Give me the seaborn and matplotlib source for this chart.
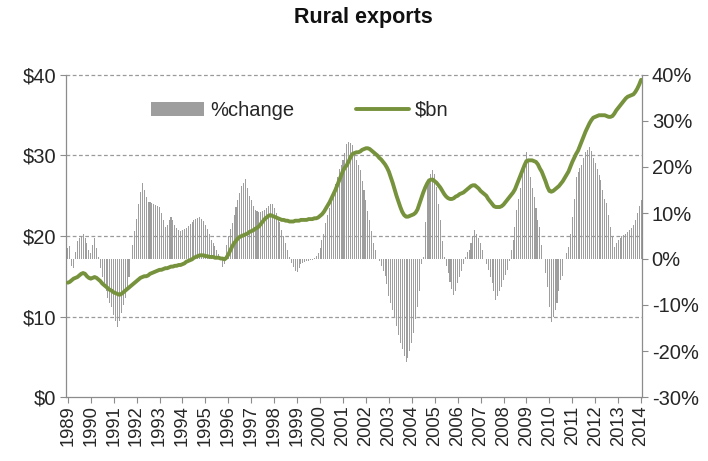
import numpy as np
import pandas as pd
import matplotlib
matplotlib.use("Agg")
import matplotlib.pyplot as plt
from matplotlib.patches import Patch
from matplotlib.lines import Line2D
import seaborn as sns

# Monthly series, January 1989 to January 2014
start_year = 1989

# Rural exports, rolling annual value ($bn), one row per year (Jan..Dec)
bn_values = [
    14.2, 14.3, 14.5, 14.7, 14.8, 14.9, 15.1, 15.3, 15.4, 15.3, 15.0, 14.8,  # 1989
    14.7, 14.8, 14.9, 14.8, 14.6, 14.4, 14.1, 13.9, 13.7, 13.5, 13.3, 13.2,  # 1990
    13.0, 12.9, 12.8, 12.7, 12.8, 13.0, 13.2, 13.4, 13.6, 13.8, 14.0, 14.2,  # 1991
    14.4, 14.6, 14.8, 14.9, 15.0, 15.0, 15.1, 15.3, 15.4, 15.5, 15.6, 15.7,  # 1992
    15.8, 15.8, 15.9, 16.0, 16.0, 16.1, 16.2, 16.2, 16.3, 16.3, 16.4, 16.4,  # 1993
    16.5, 16.6, 16.8, 16.9, 17.0, 17.1, 17.3, 17.4, 17.5, 17.6, 17.6, 17.6,  # 1994
    17.5, 17.5, 17.4, 17.4, 17.4, 17.3, 17.3, 17.3, 17.2, 17.2, 17.1, 17.3,  # 1995
    17.7, 18.2, 18.7, 19.1, 19.4, 19.7, 19.9, 20.0, 20.1, 20.2, 20.3, 20.5,  # 1996
    20.6, 20.7, 20.9, 21.0, 21.2, 21.5, 21.8, 22.1, 22.3, 22.5, 22.6, 22.5,  # 1997
    22.4, 22.3, 22.2, 22.1, 22.0, 22.0, 21.9, 21.9, 21.8, 21.8, 21.8, 21.9,  # 1998
    21.9, 21.9, 22.0, 22.0, 22.0, 22.0, 22.1, 22.1, 22.1, 22.2, 22.2, 22.3,  # 1999
    22.5, 22.7, 23.0, 23.4, 23.8, 24.2, 24.7, 25.2, 25.7, 26.3, 26.9, 27.5,  # 2000
    28.1, 28.5, 28.8, 29.3, 29.8, 30.2, 30.3, 30.4, 30.4, 30.5, 30.7, 30.8,  # 2001
    30.9, 30.9, 30.8, 30.6, 30.4, 30.2, 30.0, 29.7, 29.5, 29.2, 28.9, 28.5,  # 2002
    28.0, 27.3, 26.6, 25.8, 25.0, 24.3, 23.6, 23.0, 22.6, 22.4, 22.4, 22.5,  # 2003
    22.6, 22.7, 22.9, 23.3, 24.0, 24.7, 25.4, 26.0, 26.5, 26.9, 27.0, 27.0,  # 2004
    26.8, 26.6, 26.3, 26.0, 25.6, 25.2, 24.9, 24.7, 24.6, 24.6, 24.7, 24.9,  # 2005
    25.0, 25.2, 25.3, 25.4, 25.6, 25.8, 26.0, 26.2, 26.3, 26.3, 26.1, 25.9,  # 2006
    25.6, 25.4, 25.2, 25.0, 24.6, 24.3, 24.0, 23.7, 23.6, 23.6, 23.6, 23.7,  # 2007
    23.9, 24.2, 24.5, 24.8, 25.1, 25.4, 25.8, 26.4, 27.0, 27.6, 28.2, 28.8,  # 2008
    29.3, 29.4, 29.4, 29.4, 29.3, 29.2, 28.9, 28.4, 28.0, 27.4, 26.8, 26.1,  # 2009
    25.6, 25.5, 25.6, 25.8, 26.0, 26.2, 26.5, 26.8, 27.2, 27.6, 28.0, 28.6,  # 2010
    29.2, 29.7, 30.2, 30.6, 31.2, 31.8, 32.4, 33.0, 33.5, 34.0, 34.4, 34.7,  # 2011
    34.8, 34.9, 35.0, 35.0, 35.0, 35.0, 34.9, 34.8, 34.8, 34.9, 35.2, 35.6,  # 2012
    35.9, 36.2, 36.5, 36.8, 37.1, 37.3, 37.4, 37.5, 37.6, 37.9, 38.3, 38.8,  # 2013
    39.4,                                                                    # 2014
]

# Year-ended percentage change, one row per year (Jan..Dec)
pct_values = [
    2.5, 2.8, -1.5, -2.0, 1.5, 4.0, 4.5, 5.0, 5.4, 4.5, 3.5, 2.0,              # 1989
    1.3, 3.0, 4.6, 2.5, 0.5, -2.0, -4.0, -5.3, -7.0, -8.5, -9.6, -10.5,         # 1990
    -12.2, -13.5, -14.7, -13.5, -11.8, -10.0, -8.5, -6.7, -4.0, 0.0, 3.0, 6.0,  # 1991
    8.8, 12.0, 14.5, 16.5, 15.0, 13.5, 12.5, 12.3, 12.1, 12.0, 11.8, 11.6,      # 1992
    11.4, 10.0, 8.5, 7.0, 7.5, 8.5, 9.2, 8.5, 7.5, 6.8, 6.3, 6.0,               # 1993
    6.2, 6.5, 6.7, 7.2, 7.7, 8.1, 8.5, 8.8, 9.0, 9.2, 8.8, 8.3,                 # 1994
    7.4, 6.5, 5.5, 4.1, 3.5, 2.8, 2.0, 1.0, 0.0, -1.7, -1.0, 3.0,               # 1995
    5.0, 6.5, 7.8, 9.5, 11.4, 12.8, 14.3, 15.8, 16.5, 17.3, 15.5, 13.8,         # 1996
    12.8, 11.5, 10.7, 10.5, 10.3, 10.3, 10.5, 10.7, 11.0, 11.5, 12.0, 12.0,     # 1997
    11.0, 10.0, 9.2, 8.0, 6.3, 5.0, 3.5, 2.0, 0.5, -0.9, -1.8, -2.5,            # 1998
    -2.8, -2.0, -1.0, -0.8, -0.6, -0.5, -0.4, -0.3, -0.3, 0.2, 0.6, 1.2,        # 1999
    2.5, 4.1, 5.5, 7.8, 9.5, 11.0, 12.8, 14.5, 16.2, 17.9, 19.5, 20.5,          # 2000
    21.5, 23.0, 25.1, 25.5, 25.3, 24.8, 23.0, 21.5, 20.5, 19.3, 17.0, 15.0,     # 2001
    12.8, 10.5, 8.5, 6.0, 3.5, 2.0, 0.0, -0.5, -1.5, -2.5, -3.8, -5.5,          # 2002
    -8.0, -9.5, -11.0, -12.5, -14.5, -16.5, -18.3, -19.5, -21.0, -22.3, -21.5, -20.0,  # 2003
    -18.3, -16.0, -13.0, -10.4, -7.0, -1.0, 0.5, 8.0, 16.5, 17.5, 18.5, 19.3,   # 2004
    18.5, 15.7, 12.0, 8.5, 4.0, 0.5, -1.5, -3.1, -5.0, -6.5, -7.8, -7.0,        # 2005
    -5.3, -4.0, -2.5, -1.0, 0.5, 1.5, 2.0, 3.5, 5.0, 6.3, 5.5, 4.5,             # 2006
    3.5, 2.0, 0.0, -1.0, -2.4, -4.0, -5.3, -7.0, -8.9, -8.0, -7.0, -6.0,        # 2007
    -4.5, -3.5, -2.4, -0.5, 2.0, 4.1, 7.0, 10.7, 13.0, 15.5, 18.6, 21.0,        # 2008
    23.3, 21.0, 17.9, 15.5, 13.5, 11.0, 8.5, 7.0, 3.0, 0.0, -3.0, -6.0,         # 2009
    -10.5, -13.6, -12.5, -11.0, -9.6, -7.0, -4.5, -3.8, 0.0, 1.2, 2.7, 5.5,     # 2010
    9.2, 13.0, 17.9, 19.0, 19.8, 20.5, 22.0, 23.3, 23.8, 24.3, 23.5, 22.0,      # 2011
    20.8, 19.5, 18.2, 17.2, 15.0, 13.0, 12.1, 9.5, 7.0, 5.0, 2.7, 3.5,          # 2012
    4.1, 4.5, 5.0, 5.2, 5.5, 5.9, 6.3, 6.8, 7.4, 8.5, 10.0, 11.5,               # 2013
    12.8,                                                                       # 2014
]

year_ticks = list(range(1989, 2015))
dollar_ticks = [0, 10, 20, 30, 40]
pct_ticks = [-30, -20, -10, 0, 10, 20, 30, 40]

BAR_COLOR = "#9e9e9e"
LINE_COLOR = "#76923c"
AXIS_COLOR = "#8c8c8c"
TEXT_COLOR = "#262626"

sns.set_theme(style="white")
plt.rcParams["font.family"] = ["Liberation Sans", "DejaVu Sans"]

t = start_year + np.arange(len(bn_values)) / 12.0
df = pd.DataFrame({"t": t, "bn": bn_values, "pct": pct_values})

fig = plt.figure(figsize=(7.08, 4.61), dpi=100)
ax = fig.add_axes([66 / 708, 1 - 397 / 461, 576 / 708, 322 / 461])

# Percentage change as thin monthly bars (right-hand scale)
sns.barplot(data=df, x="t", y="pct", native_scale=True, width=0.55,
            color=BAR_COLOR, saturation=1, errorbar=None, linewidth=0, ax=ax)
ax.set_ylim(-30, 40)
ax.set_xlim(1988.92, 2014.04)

# Dollar value as a line (left-hand scale)
ax2 = ax.twinx()
sns.lineplot(data=df, x="t", y="bn", color=LINE_COLOR, linewidth=2.8, ax=ax2)
ax2.set_ylim(0, 40)
ax2.set_xlim(1988.92, 2014.04)

# Tick sides: percentages on the right, dollars on the left
ax.yaxis.tick_right()
ax2.yaxis.tick_left()
ax.set_yticks(pct_ticks)
ax.set_yticklabels([f"{v}%" for v in pct_ticks])
ax2.set_yticks(dollar_ticks)
ax2.set_yticklabels([rf"\${v}" for v in dollar_ticks])
ax.set_xticks(year_ticks)
ax.set_xticklabels([str(y) for y in year_ticks], rotation=90)

for a in (ax, ax2):
    a.set_xlabel("")
    a.set_ylabel("")
    a.grid(False)

ax.tick_params(axis="x", direction="out", length=4, width=0.8, color=AXIS_COLOR,
               labelsize=13.2, labelcolor=TEXT_COLOR, pad=2, bottom=True)
ax.tick_params(axis="y", direction="out", length=4, width=0.8, color=AXIS_COLOR,
               labelsize=14.5, labelcolor=TEXT_COLOR, pad=3, right=True, left=False)
ax2.tick_params(axis="y", direction="out", length=4, width=0.8, color=AXIS_COLOR,
                labelsize=14.5, labelcolor=TEXT_COLOR, pad=3, left=True, right=False)

# Dashed horizontal gridlines at the dollar ticks
for v in dollar_ticks[1:]:
    ax2.axhline(v, color="#9a9a9a", linewidth=0.9, linestyle=(0, (3, 2)),
                zorder=0.5, clip_on=False)

for a in (ax, ax2):
    a.spines["top"].set_visible(False)
for s in ("left", "right", "bottom"):
    ax.spines[s].set_visible(True)
    ax.spines[s].set_color(AXIS_COLOR)
    ax.spines[s].set_linewidth(0.9)
for s in ("left", "right", "bottom"):
    ax2.spines[s].set_visible(False)

ax2.set_zorder(ax.get_zorder() + 1)
ax2.patch.set_visible(False)

handles = [Patch(facecolor=BAR_COLOR, edgecolor="none"),
           Line2D([], [], color=LINE_COLOR, linewidth=2.8)]
ax2.legend(handles, ["%change", r"\$bn"], ncol=2, frameon=False, loc="center",
           bbox_to_anchor=(0.406, 0.89), fontsize=14.5, handlelength=2.6,
           handleheight=0.65, columnspacing=3.1, handletextpad=0.3,
           labelcolor=TEXT_COLOR)

fig.text(0.513, 0.961, "Rural exports", ha="center", va="center",
         fontsize=15.5, fontweight="bold", color="#111111")

fig.savefig("out.png", dpi=100)
